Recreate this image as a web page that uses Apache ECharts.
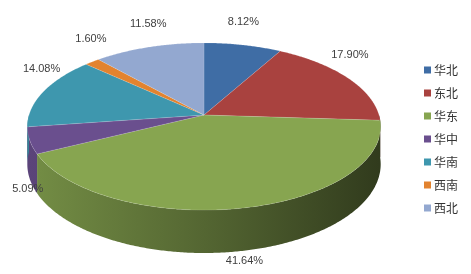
<!DOCTYPE html>
<html>
<head>
<meta charset="utf-8">
<script src="https://cdn.jsdelivr.net/npm/echarts@6/dist/echarts.min.js"></script>
<style>html,body{margin:0;padding:0;background:#fff}#c{width:471px;height:274px}</style>
</head>
<body>
<div id="c"></div>
<script>
const categories = ['华北', '东北', '华东', '华中', '华南', '西南', '西北'];
const shares = [8.12, 17.90, 41.64, 5.09, 14.08, 1.60, 11.58];

const palette = ['#3F6DA5', '#A9423F', '#87A550', '#6A4F8E', '#3E97AE', '#E2832F', '#93A8D0'];

// pie geometry (perspective ellipse)
const G = { cx: 204, cy: 115, rx: 175, ry: 82, k: 0.1377, depth: 37 };

function proj(t, h) {
  const u = Math.sin(t), v = Math.cos(t);
  const s = 1 / (1 + G.k * v);
  return [G.cx + G.rx * u * s, G.cy - G.ry * v * s + h * s];
}
function arc(a0, a1, h) {
  const pts = [];
  const n = Math.max(2, Math.ceil((a1 - a0) / (Math.PI / 360)));
  for (let j = 0; j <= n; j++) pts.push(proj(a0 + (a1 - a0) * j / n, h));
  return pts;
}
function shade(hex, f) {
  const n = parseInt(hex.slice(1), 16);
  const r = Math.round(((n >> 16) & 255) * f), g = Math.round(((n >> 8) & 255) * f), b = Math.round((n & 255) * f);
  return 'rgb(' + r + ',' + g + ',' + b + ')';
}
const total = shares.reduce((a, b) => a + b, 0);

function makeRender(i) {
  return function (params, api) {
    const val = api.value(0);
    let start = 0;
    for (let j = 0; j < i; j++) start += shares[j];
    const a0 = start / total * Math.PI * 2;
    const a1 = (start + val) / total * Math.PI * 2;
    const color = palette[i];
    const children = [];
    // side wall (front half)
    const s0 = Math.max(a0, Math.PI / 2), s1 = Math.min(a1, Math.PI * 1.5);
    if (s1 > s0) {
      const top = arc(s0, s1, 0);
      const bot = arc(s0, s1, G.depth).reverse();
      children.push({
        type: 'polygon', z2: 1,
        shape: { points: top.concat(bot) },
        style: {
          fill: {
            type: 'linear', global: true, x: G.cx - G.rx, y: 0, x2: G.cx + G.rx, y2: 0,
            colorStops: [
              { offset: 0, color: shade(color, 0.86) },
              { offset: 0.5, color: shade(color, 0.62) },
              { offset: 1, color: shade(color, 0.36) }
            ]
          }
        }
      });
    }
    // top face
    const pts = [[G.cx, G.cy]].concat(arc(a0, a1, 0));
    children.push({
      type: 'polygon', z2: 2,
      shape: { points: pts },
      style: { fill: color, stroke: 'rgba(255,255,255,0.25)', lineWidth: 0.5 }
    });
    // label outside the rim
    const m = (a0 + a1) / 2;
    const u = Math.sin(m), v = Math.cos(m);
    const s = 1 / (1 + G.k * v);
    const lx = G.cx + (G.rx + 2) * u * s;
    const ly = v < 0 ? proj(m, G.depth)[1] + 10 : proj(m, 0)[1] - 23;
    children.push({
      type: 'text', z2: 3,
      style: {
        text: val.toFixed(2) + '%', x: lx, y: ly,
        fill: '#404040', font: '11px "Liberation Sans", Arial, sans-serif',
        align: 'center', verticalAlign: 'middle', textAlign: 'center', textVerticalAlign: 'middle'
      }
    });
    return { type: 'group', children: children };
  };
}

const series = categories.map((name, i) => ({
  type: 'custom',
  name: name,
  coordinateSystem: 'none',
  silent: true,
  itemStyle: { color: palette[i] },
  data: [[shares[i]]],
  renderItem: makeRender(i)
}));

const chart = echarts.init(document.getElementById('c'), null, { renderer: 'canvas' });
chart.setOption({
  animation: false,
  backgroundColor: '#ffffff',
  color: palette,
  legend: {
    orient: 'vertical',
    left: 419,
    top: 59,
    icon: 'rect',
    itemWidth: 7,
    itemHeight: 7,
    itemGap: 11,
    data: categories,
    textStyle: { fontFamily: '"Noto Sans CJK SC", sans-serif', fontSize: 12, color: '#333333', padding: [0, 0, 0, -2] }
  },
  series: series
});
</script>
</body>
</html>
